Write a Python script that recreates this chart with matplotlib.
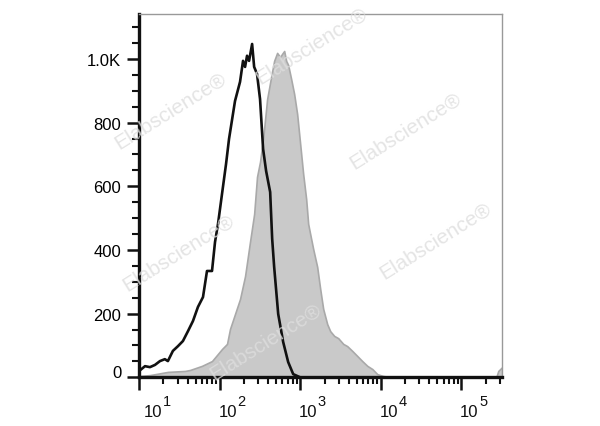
import numpy as np
import matplotlib
matplotlib.use("Agg")
import matplotlib.pyplot as plt
from matplotlib.ticker import FixedLocator, MultipleLocator, LogLocator, NullFormatter
import matplotlib.transforms as mtrans

plt.rcParams['font.family'] = ['Liberation Sans', 'DejaVu Sans']

# control (black outline) histogram: intensity, count
ctrl_x = [10, 11.8, 13.6, 15.7, 18.1, 20.8, 22.7, 26.2, 30.3, 34.9, 40.3, 46.5, 53.6,
          61.9, 69.4, 80.1, 87.3, 95.1, 106.6, 119.6, 130.3, 154.6, 178.4, 194.4, 206,
          218, 231, 252, 267, 290, 316, 345, 376, 422, 447, 473, 531, 612, 706, 815,
          995, 1300, 320000]
ctrl_y = [20, 35, 32, 39, 51, 57, 51, 83, 98, 114, 145, 177, 221,
          252, 334, 334, 425, 482, 576, 670, 749, 868, 928, 994, 975,
          1010, 994, 1047, 975, 953, 874, 717, 648, 582, 435, 347, 199, 111, 48, 10,
          0, 0, 0]

# stained sample (grey filled) histogram: intensity, count
stain_x = [10, 13.6, 22.7, 37.0, 42.7, 60.1, 80.0, 106.6, 123, 134, 154.6, 178.4, 206,
           238, 267, 290, 316, 345, 387, 434, 473, 515, 561, 594, 630, 667, 706, 769,
           838, 913, 995, 1084, 1181, 1251, 1325, 1444, 1618, 1763, 1921, 2156, 2349,
           2633, 2951, 3406, 3817, 4406, 5086, 5870, 6776, 7822, 9016, 10700, 13060,
           270000, 286000, 320000]
stain_y = [4, 7, 17, 20, 23, 36, 51, 89, 105, 152, 199, 246, 318,
           428, 513, 630, 677, 749, 874, 944, 994, 1019, 1006, 1016, 1025, 994, 981, 937,
           890, 827, 733, 639, 560, 482, 450, 403, 347, 278, 215, 167, 145,
           130, 123, 105, 98, 83, 67, 51, 36, 26, 10, 4, 1,
           0, 20, 32]

x_ticks = [10, 100, 1000, 10000, 100000]
x_exps = ['1', '2', '3', '4', '5']
y_ticks = [0, 200, 400, 600, 800, 1000]
y_labels = ['0', '200', '400', '600', '800', '1.0K']

# watermark centres in axes fraction
wm_pos = [(0.474, 0.915), (0.085, 0.735), (0.733, 0.682), (0.107, 0.345), (0.817, 0.379), (0.348, 0.100)]

fig = plt.figure(figsize=(6, 4.27), dpi=100)
ax = fig.add_axes([0.232, 0.114, 0.605, 0.850])

ax.fill_between(stain_x, stain_y, 0, facecolor='#c9c9c9', edgecolor='#a9a9a9', lw=1.2, zorder=2)
ax.plot(ctrl_x, ctrl_y, color='#111111', lw=1.9, zorder=3)

ax.set_xscale('log')
ax.set_xlim(10, 320000)
ax.set_ylim(0, 1140)

ax.xaxis.set_major_locator(FixedLocator(x_ticks))
ax.xaxis.set_major_formatter(NullFormatter())
ax.xaxis.set_minor_locator(LogLocator(base=10, subs=np.arange(2, 10)))
ax.xaxis.set_minor_formatter(NullFormatter())
ax.yaxis.set_major_locator(FixedLocator(y_ticks))
ax.set_yticklabels(y_labels)
ax.yaxis.set_minor_locator(MultipleLocator(50))

ax.tick_params(which='major', direction='out', length=9, width=1.8, labelsize=12, color='#111111')
ax.tick_params(which='minor', direction='out', length=5, width=1.5, color='#111111')
ax.tick_params(axis='y', pad=4)

zero = ax.get_yticklabels()[0]
zero.set_transform(zero.get_transform() + mtrans.ScaledTranslation(0, 6 / 100, fig.dpi_scale_trans))

# x labels "10" with a large superscript exponent
for i, (t, e) in enumerate(zip(x_ticks, x_exps)):
    dx = 5 if i == 0 else -1.5
    ax.annotate('10', xy=(t, 0), xycoords=('data', 'axes fraction'),
                xytext=(dx * 0.72, -27 * 0.72), textcoords='offset points',
                ha='left', va='top', fontsize=12, color='#111111', annotation_clip=False)
    ax.annotate(e, xy=(t, 0), xycoords=('data', 'axes fraction'),
                xytext=((dx + 19) * 0.72, -17 * 0.72), textcoords='offset points',
                ha='left', va='top', fontsize=10.5, color='#111111', annotation_clip=False)

for side in ['left', 'bottom']:
    ax.spines[side].set_linewidth(2.4)
    ax.spines[side].set_color('#111111')
for side in ['top', 'right']:
    ax.spines[side].set_linewidth(1.0)
    ax.spines[side].set_color('#999999')

for (wx, wy) in wm_pos:
    ax.text(wx, wy, 'Elabscience\u00ae', transform=ax.transAxes, rotation=32,
            ha='center', va='center', fontsize=15,
            color='#dedede', alpha=0.8, zorder=5, clip_on=False)

fig.savefig('out.png', dpi=100)
